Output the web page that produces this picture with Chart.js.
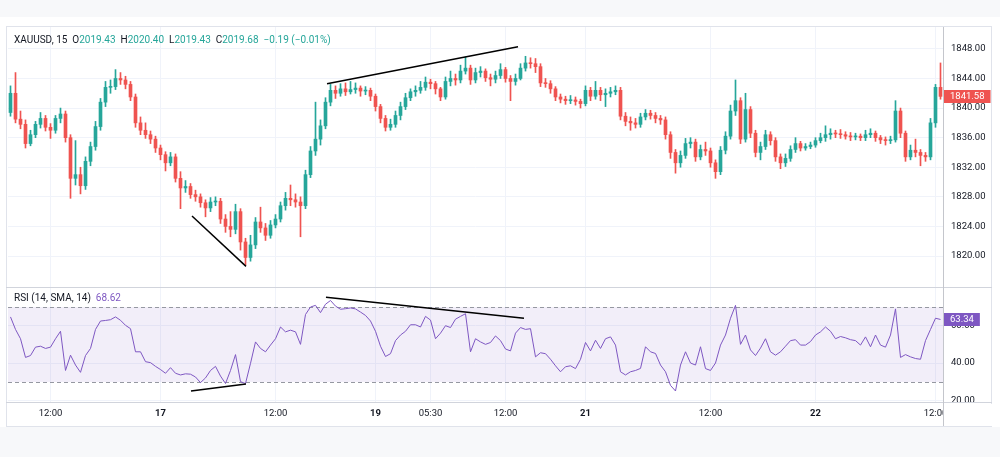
<!DOCTYPE html>
<html>
<head>
<meta charset="utf-8">
<script src="https://cdn.jsdelivr.net/npm/chart.js@4.4.0/dist/chart.umd.min.js"></script>
<style>
  body { margin: 0; background: #f7f8fa; font-family: Roboto, "Open Sans", sans-serif; }
  #page { position: relative; width: 1000px; height: 457px; overflow: hidden; }
  .abs { position: absolute; }
  #sheet { left: 0; top: 17px; width: 1000px; height: 410px; background: #fff; }
  #frame { left: 6px; top: 26px; width: 986px; height: 401px; border: 1px solid #e0e3eb; box-sizing: border-box; }
  .hline { height: 1px; left: 6px; width: 986px; background: #d1d4dc; }
  .vline { width: 1px; background: #c4c6cc; }
  .legend { font-size: 10px; color: #131722; white-space: pre; }
  .up { color: #26a69a; }
  .rsi { color: #7e57c2; }
</style>
</head>
<body>
<div id="page">
  <div id="sheet" class="abs"></div>
  <div id="frame" class="abs"></div>
  <canvas id="priceChart" class="abs" width="986" height="260" style="left:6px;top:27px"></canvas>
  <canvas id="rsiChart" class="abs" width="986" height="138" style="left:6px;top:288px"></canvas>
  <div class="abs hline" style="top:287px"></div>
  <div class="abs hline" style="top:402px"></div>
  <div class="abs vline" style="left:943px;top:27px;height:399px"></div>
  <div class="abs legend" style="left:14px;top:34px">XAUUSD, 15  O<span class="up">2019.43</span>  H<span class="up">2020.40</span>  L<span class="up">2019.43</span>  C<span class="up">2019.68</span>  <span class="up">−0.19 (−0.01%)</span></div>
  <div class="abs legend" style="left:14px;top:292px">RSI (14, SMA, 14)  <span class="rsi">68.62</span></div>
</div>
<script>
// 15 minute candles
const closes = [
  1842.0, 1838.5, 1837.8, 1835.2, 1836.4, 1837.8, 1838.6, 1837.4, 1837.0, 1838.6,
  1839.2, 1836.0, 1830.5, 1831.0, 1829.5, 1832.8, 1834.8, 1837.5, 1840.8, 1842.8,
  1842.9, 1844.0, 1843.8, 1843.2, 1841.5, 1838.0, 1837.0, 1836.4, 1835.8, 1834.6,
  1833.7, 1832.6, 1833.4, 1830.5, 1829.2, 1829.4, 1828.3, 1828.0, 1827.2, 1826.5,
  1827.3, 1827.4, 1825.0, 1824.0, 1823.6, 1826.0, 1821.9, 1819.8, 1821.5, 1824.6,
  1823.8, 1822.8, 1824.2, 1825.0, 1826.8, 1827.8, 1827.6, 1827.3, 1826.8, 1831.0,
  1834.2, 1835.8, 1837.6, 1840.8, 1842.4, 1842.0, 1842.6, 1842.2, 1842.5, 1842.7,
  1842.3, 1842.4, 1841.6, 1840.2, 1838.6, 1837.4, 1837.8, 1839.0, 1840.2, 1841.4,
  1842.2, 1842.4, 1842.8, 1843.5, 1843.3, 1842.6, 1841.5, 1843.6, 1844.0, 1843.8,
  1845.0, 1845.4, 1843.8, 1844.8, 1845.0, 1844.1, 1843.9, 1844.4, 1845.2, 1844.0,
  1843.6, 1844.0, 1845.4, 1846.1, 1846.0, 1845.6, 1843.4, 1843.3, 1842.6, 1841.5,
  1841.2, 1841.0, 1841.1, 1840.9, 1840.6, 1842.4, 1841.6, 1842.4, 1841.8, 1842.0,
  1842.2, 1842.4, 1838.9, 1838.2, 1838.0, 1837.8, 1838.8, 1839.3, 1839.0, 1838.6,
  1838.4, 1836.4, 1834.0, 1832.6, 1833.6, 1835.2, 1835.4, 1833.4, 1834.4, 1834.2,
  1832.6, 1831.4, 1834.3, 1836.2, 1839.6, 1841.0, 1835.8, 1839.8, 1836.6, 1834.0,
  1834.8, 1836.4, 1835.6, 1833.4, 1832.6, 1833.2, 1834.4, 1835.2, 1834.6, 1834.8,
  1835.0, 1835.6, 1836.0, 1836.4, 1836.6, 1836.5, 1836.4, 1836.2, 1836.1, 1836.2,
  1836.0, 1836.4, 1836.6, 1836.0, 1835.7, 1835.6, 1835.7, 1839.6, 1836.6, 1833.4,
  1834.3, 1834.0, 1833.6, 1833.4, 1838.0, 1842.8, 1841.58
];
const highs = [
  1843.0, 1844.8, 1839.6, 1838.4, 1837.0, 1838.2, 1839.4, 1839.0, 1837.9, 1839.0,
  1840.0, 1839.6, 1836.4, 1835.6, 1832.0, 1833.4, 1835.4, 1838.2, 1841.3, 1843.6,
  1843.8, 1845.2, 1844.8, 1844.3, 1843.6, 1841.9, 1838.8, 1838.0, 1836.9, 1836.2,
  1835.0, 1834.1, 1834.0, 1833.8, 1831.4, 1830.2, 1829.8, 1828.9, 1828.4, 1827.6,
  1827.9, 1828.0, 1827.8, 1825.6, 1826.0, 1827.0, 1826.4, 1822.4, 1822.8, 1825.2,
  1826.6, 1824.4, 1824.8, 1825.6, 1827.3, 1828.6, 1829.6, 1828.4, 1828.0, 1831.6,
  1834.8, 1840.8, 1838.4, 1841.4, 1843.2, 1843.0, 1843.3, 1843.4, 1843.6, 1843.4,
  1843.0, 1842.9, 1842.7, 1841.9, 1840.5, 1839.0, 1838.5, 1839.6, 1840.8, 1842.0,
  1842.6, 1843.0, 1843.6, 1844.2, 1843.9, 1843.6, 1842.8, 1844.2, 1845.0, 1844.6,
  1845.8, 1846.9, 1845.8, 1845.4, 1845.6, 1845.3, 1844.6, 1845.0, 1846.0, 1845.5,
  1844.4, 1844.6, 1846.0, 1847.0, 1846.8, 1846.7, 1846.0, 1844.0, 1843.7, 1842.9,
  1841.9, 1841.6, 1841.7, 1841.5, 1841.2, 1843.0, 1842.8, 1843.6, 1842.8, 1842.6,
  1842.8, 1843.0, 1842.8, 1839.4, 1838.8, 1838.6, 1839.3, 1839.8, 1839.7, 1839.4,
  1839.0, 1838.8, 1836.8, 1834.4, 1834.2, 1835.9, 1836.0, 1835.8, 1835.0, 1835.4,
  1834.6, 1833.0, 1834.8, 1836.8, 1840.4, 1843.8, 1841.4, 1842.0, 1840.2, 1837.0,
  1835.4, 1837.0, 1836.8, 1836.0, 1833.8, 1833.8, 1834.9, 1836.0, 1835.5, 1835.2,
  1835.4, 1836.0, 1836.6, 1837.6, 1837.2, 1837.0, 1837.1, 1836.8, 1836.7, 1836.6,
  1836.5, 1837.0, 1837.2, 1836.9, 1836.3, 1836.1, 1836.2, 1841.0, 1840.0, 1836.9,
  1835.0, 1835.8, 1834.4, 1834.0, 1838.6, 1843.2, 1846.1
];
const lows = [
  1838.9, 1838.0, 1837.2, 1834.6, 1834.9, 1836.0, 1837.3, 1836.9, 1835.9, 1836.6,
  1838.0, 1835.4, 1827.8, 1829.6, 1828.4, 1829.0, 1832.2, 1834.3, 1837.0, 1840.2,
  1842.0, 1842.5, 1843.2, 1842.6, 1841.0, 1837.4, 1836.4, 1835.9, 1835.2, 1834.0,
  1833.0, 1831.5, 1832.2, 1830.0, 1826.4, 1828.6, 1827.8, 1827.4, 1826.6, 1825.3,
  1826.0, 1826.8, 1824.4, 1823.2, 1822.6, 1823.0, 1820.8, 1818.8, 1819.3, 1821.0,
  1823.2, 1822.1, 1822.4, 1823.8, 1824.6, 1826.2, 1826.8, 1826.6, 1822.6, 1826.4,
  1830.6, 1833.6, 1835.0, 1837.2, 1840.3, 1841.3, 1841.6, 1841.7, 1841.9, 1842.0,
  1841.6, 1841.8, 1841.0, 1839.6, 1838.0, 1836.9, 1837.0, 1837.4, 1838.4, 1839.8,
  1841.0, 1841.6, 1842.0, 1842.4, 1842.6, 1841.9, 1841.0, 1841.2, 1843.0, 1843.1,
  1843.4, 1844.6, 1843.2, 1843.4, 1844.2, 1843.6, 1843.0, 1843.4, 1844.0, 1843.5,
  1841.0, 1843.1, 1843.8, 1845.0, 1845.4, 1844.8, 1842.9, 1842.8, 1842.0, 1841.0,
  1840.7, 1840.5, 1840.6, 1840.4, 1840.0, 1840.3, 1841.0, 1841.2, 1841.0, 1840.2,
  1841.5, 1841.8, 1838.4, 1837.6, 1837.0, 1837.3, 1837.4, 1838.4, 1838.5, 1838.0,
  1837.8, 1835.8, 1833.2, 1831.2, 1832.0, 1833.2, 1834.6, 1832.8, 1833.0, 1833.6,
  1832.0, 1830.5, 1831.0, 1833.8, 1835.8, 1839.0, 1835.2, 1835.4, 1836.0, 1833.4,
  1833.0, 1834.4, 1835.0, 1832.8, 1831.8, 1832.1, 1832.8, 1834.0, 1834.2, 1834.3,
  1834.5, 1834.7, 1835.3, 1835.5, 1835.8, 1836.0, 1835.9, 1835.8, 1835.6, 1835.7,
  1835.6, 1835.6, 1836.0, 1835.5, 1835.2, 1835.0, 1835.2, 1835.4, 1836.0, 1832.8,
  1833.0, 1833.4, 1832.2, 1832.8, 1833.0, 1837.4, 1841.2
];
const firstOpen = 1839.4;

const rsi = [
  64.7, 58, 53, 43, 44, 48.5, 49, 47.8, 48.5, 53,
  57, 36, 44.2, 38.9, 35, 44, 47.8, 58, 62.5, 62.8,
  63.2, 64.7, 62.9, 60.2, 58.4, 46, 46, 40.7, 40.2, 38.2,
  36.5, 34.5, 37.5, 34.5, 33.6, 34.2, 34, 32.5, 29.5, 32,
  36, 38.2, 33, 29, 36, 44.5, 30, 29, 39.8, 51.3,
  47.8, 46, 49.6, 53, 59.3, 56.7, 57.6, 56.7, 50, 66,
  70, 70.9, 67, 71.5, 73.5, 70.5, 68.8, 69.1, 69.5, 69,
  67.3, 65.5, 62.5, 57, 49, 43.5, 45, 52, 55, 57,
  60.5, 60.5, 59.3, 65, 63, 53, 56, 60, 59, 63.5,
  65, 66.4, 46, 53, 51.3, 50, 51, 54.5, 52, 47.5,
  46.5, 56, 59, 58, 58.4, 43.3, 45.5, 45, 42, 38.5,
  35.3, 38, 38.5, 37, 42, 51, 46.5, 52.2, 47.8, 53,
  54, 49.6, 35.3, 33.6, 35.3, 36, 37.1, 48.7, 46, 45.1,
  38.9, 35.3, 28, 25, 38.9, 46, 40, 38.9, 48.7, 37,
  36, 40, 49.6, 55, 64, 70.9, 50, 55, 47, 44,
  48, 53, 46, 44.2, 46, 49, 52, 52.5, 49.6, 49.6,
  51.5, 55, 56.7, 59.3, 57, 53, 54.2, 53.5, 52.5, 52,
  49.6, 54, 48.7, 55, 49.6, 48.5, 55, 69, 43, 44.5,
  43.3, 42.4, 42, 52, 58, 64, 63.34
];

const priceTicks = [1820, 1824, 1828, 1832, 1836, 1840, 1844, 1848];
const rsiTicks = [20, 40, 60];
const rsiBands = [30, 70];
const timeTickIdx = [8, 30, 53, 73, 84, 99, 115, 140, 161, 185];
const timeTickLabels = ['12:00', '17', '12:00', '19', '05:30', '12:00', '21', '12:00', '22', '12:00'];
const dayLabels = ['17', '19', '21', '22'];

// hand drawn divergence lines (candle index, value)
const priceTrends = [
  [{ x: 36.3, y: 1825.4 }, { x: 47.1, y: 1818.6 }],
  [{ x: 63.3, y: 1843.3 }, { x: 101.5, y: 1848.3 }]
];
const rsiTrends = [
  [{ x: 36.1, y: 25 }, { x: 47.1, y: 28.8 }],
  [{ x: 63.1, y: 75.2 }, { x: 102.7, y: 64 }]
];

const FONT = 'Roboto, "Open Sans", sans-serif';
const UP = '#26a69a';
const DOWN = '#ef5350';
const GRID = '#f0f3fa';
const TEXT = '#131722';

// each candle opens where the previous one closed
const opens = closes.map((c, i) => (i === 0 ? firstOpen : closes[i - 1]));
const candleColors = closes.map((c, i) => (c >= opens[i] ? UP : DOWN));

function xScale(showLabels) {
  return {
    type: 'linear',
    min: -0.5,
    max: closes.length - 0.5,
    offset: false,
    afterBuildTicks: (s) => { s.ticks = timeTickIdx.map((v) => ({ value: v })); },
    ticks: {
      display: showLabels,
      autoSkip: false,
      maxRotation: 0,
      padding: 6,
      color: TEXT,
      font: (ctx) => ({
        family: FONT,
        size: 9.5,
        weight: ctx.tick && dayLabels.includes(ctx.tick.label) ? 'bold' : 'normal'
      }),
      callback: (v, i) => timeTickLabels[i]
    },
    grid: { color: GRID, drawTicks: false, offset: false },
    border: { display: false },
    afterFit: (s) => { s.height = showLabels ? 24 : 0; s.paddingLeft = 0; s.paddingRight = 0; }
  };
}

function yScale(min, max, tickValues) {
  return {
    type: 'linear',
    position: 'right',
    min: min,
    max: max,
    afterBuildTicks: (s) => { s.ticks = tickValues.map((v) => ({ value: v })); },
    ticks: { color: TEXT, padding: 8, font: { family: FONT, size: 9.5 }, callback: (v) => v.toFixed(2) },
    grid: { color: GRID, drawTicks: false },
    border: { display: false },
    afterFit: (s) => { s.width = 49; s.paddingTop = 0; s.paddingBottom = 0; }
  };
}

function lastValueBadge(value, color) {
  return {
    id: 'badge',
    afterDraw(chart) {
      const { ctx, chartArea, scales } = chart;
      const y = Math.round(scales.y.getPixelForValue(value));
      const text = value.toFixed(2);
      ctx.save();
      ctx.font = '9.5px ' + FONT;
      const w = ctx.measureText(text).width + 12;
      ctx.fillStyle = color;
      ctx.fillRect(chartArea.right + 1, y - 6, w, 13);
      ctx.fillStyle = '#fff';
      ctx.textBaseline = 'middle';
      ctx.fillText(text, chartArea.right + 7, y + 0.5);
      ctx.restore();
    }
  };
}

function trendDataset(points) {
  return { type: 'line', data: points, borderColor: '#000', borderWidth: 1.5, pointRadius: 0, order: 0 };
}

const common = {
  responsive: false,
  animation: false,
  devicePixelRatio: 1,
  layout: { padding: { left: 2, right: 0, top: 0, bottom: 0 } },
  plugins: { legend: { display: false }, tooltip: { enabled: false } }
};

new Chart(document.getElementById('priceChart'), {
  type: 'bar',
  data: {
    datasets: [
      trendDataset(priceTrends[0]),
      trendDataset(priceTrends[1]),
      {
        type: 'bar',
        data: closes.map((c, i) => ({ x: i, y: [opens[i], c] })),
        backgroundColor: candleColors,
        barThickness: 3,
        minBarLength: 1,
        grouped: false,
        order: 1
      },
      {
        type: 'bar',
        data: closes.map((c, i) => ({ x: i, y: [lows[i], highs[i]] })),
        backgroundColor: candleColors,
        barThickness: 1,
        grouped: false,
        order: 2
      }
    ]
  },
  options: Object.assign({}, common, {
    scales: { x: xScale(false), y: yScale(1815.81, 1850.96, priceTicks) }
  }),
  plugins: [lastValueBadge(closes[closes.length - 1], DOWN)]
});

const rsiBandPlugin = {
  id: 'rsiBand',
  beforeDatasetsDraw(chart) {
    const { ctx, chartArea: a, scales } = chart;
    const top = Math.round(scales.y.getPixelForValue(rsiBands[1]));
    const bot = Math.round(scales.y.getPixelForValue(rsiBands[0]));
    ctx.save();
    ctx.fillStyle = 'rgba(126, 87, 194, 0.1)';
    ctx.fillRect(a.left, top, a.width, bot - top);
    ctx.strokeStyle = '#9598a1';
    ctx.lineWidth = 1;
    ctx.setLineDash([4, 3]);
    [top, bot].forEach((py) => {
      ctx.beginPath();
      ctx.moveTo(a.left, py + 0.5);
      ctx.lineTo(a.right, py + 0.5);
      ctx.stroke();
    });
    ctx.restore();
  }
};

// the last time label is cut off by the price scale
const clipTimeAxis = {
  id: 'clipTimeAxis',
  afterDraw(chart) {
    const { ctx, chartArea: a } = chart;
    ctx.save();
    ctx.fillStyle = '#fff';
    ctx.fillRect(a.right + 1, a.bottom + 2, chart.width - a.right, chart.height - a.bottom);
    ctx.restore();
  }
};

new Chart(document.getElementById('rsiChart'), {
  type: 'line',
  data: {
    datasets: [
      trendDataset(rsiTrends[0]),
      trendDataset(rsiTrends[1]),
      {
        data: rsi.map((v, i) => ({ x: i, y: v })),
        borderColor: '#7e57c2',
        borderWidth: 1,
        pointRadius: 0,
        tension: 0,
        order: 1
      }
    ]
  },
  options: Object.assign({}, common, {
    scales: { x: xScale(true), y: yScale(19.1, 80.2, rsiTicks) }
  }),
  plugins: [rsiBandPlugin, clipTimeAxis, lastValueBadge(rsi[rsi.length - 1], '#7e57c2')]
});
</script>
</body>
</html>
